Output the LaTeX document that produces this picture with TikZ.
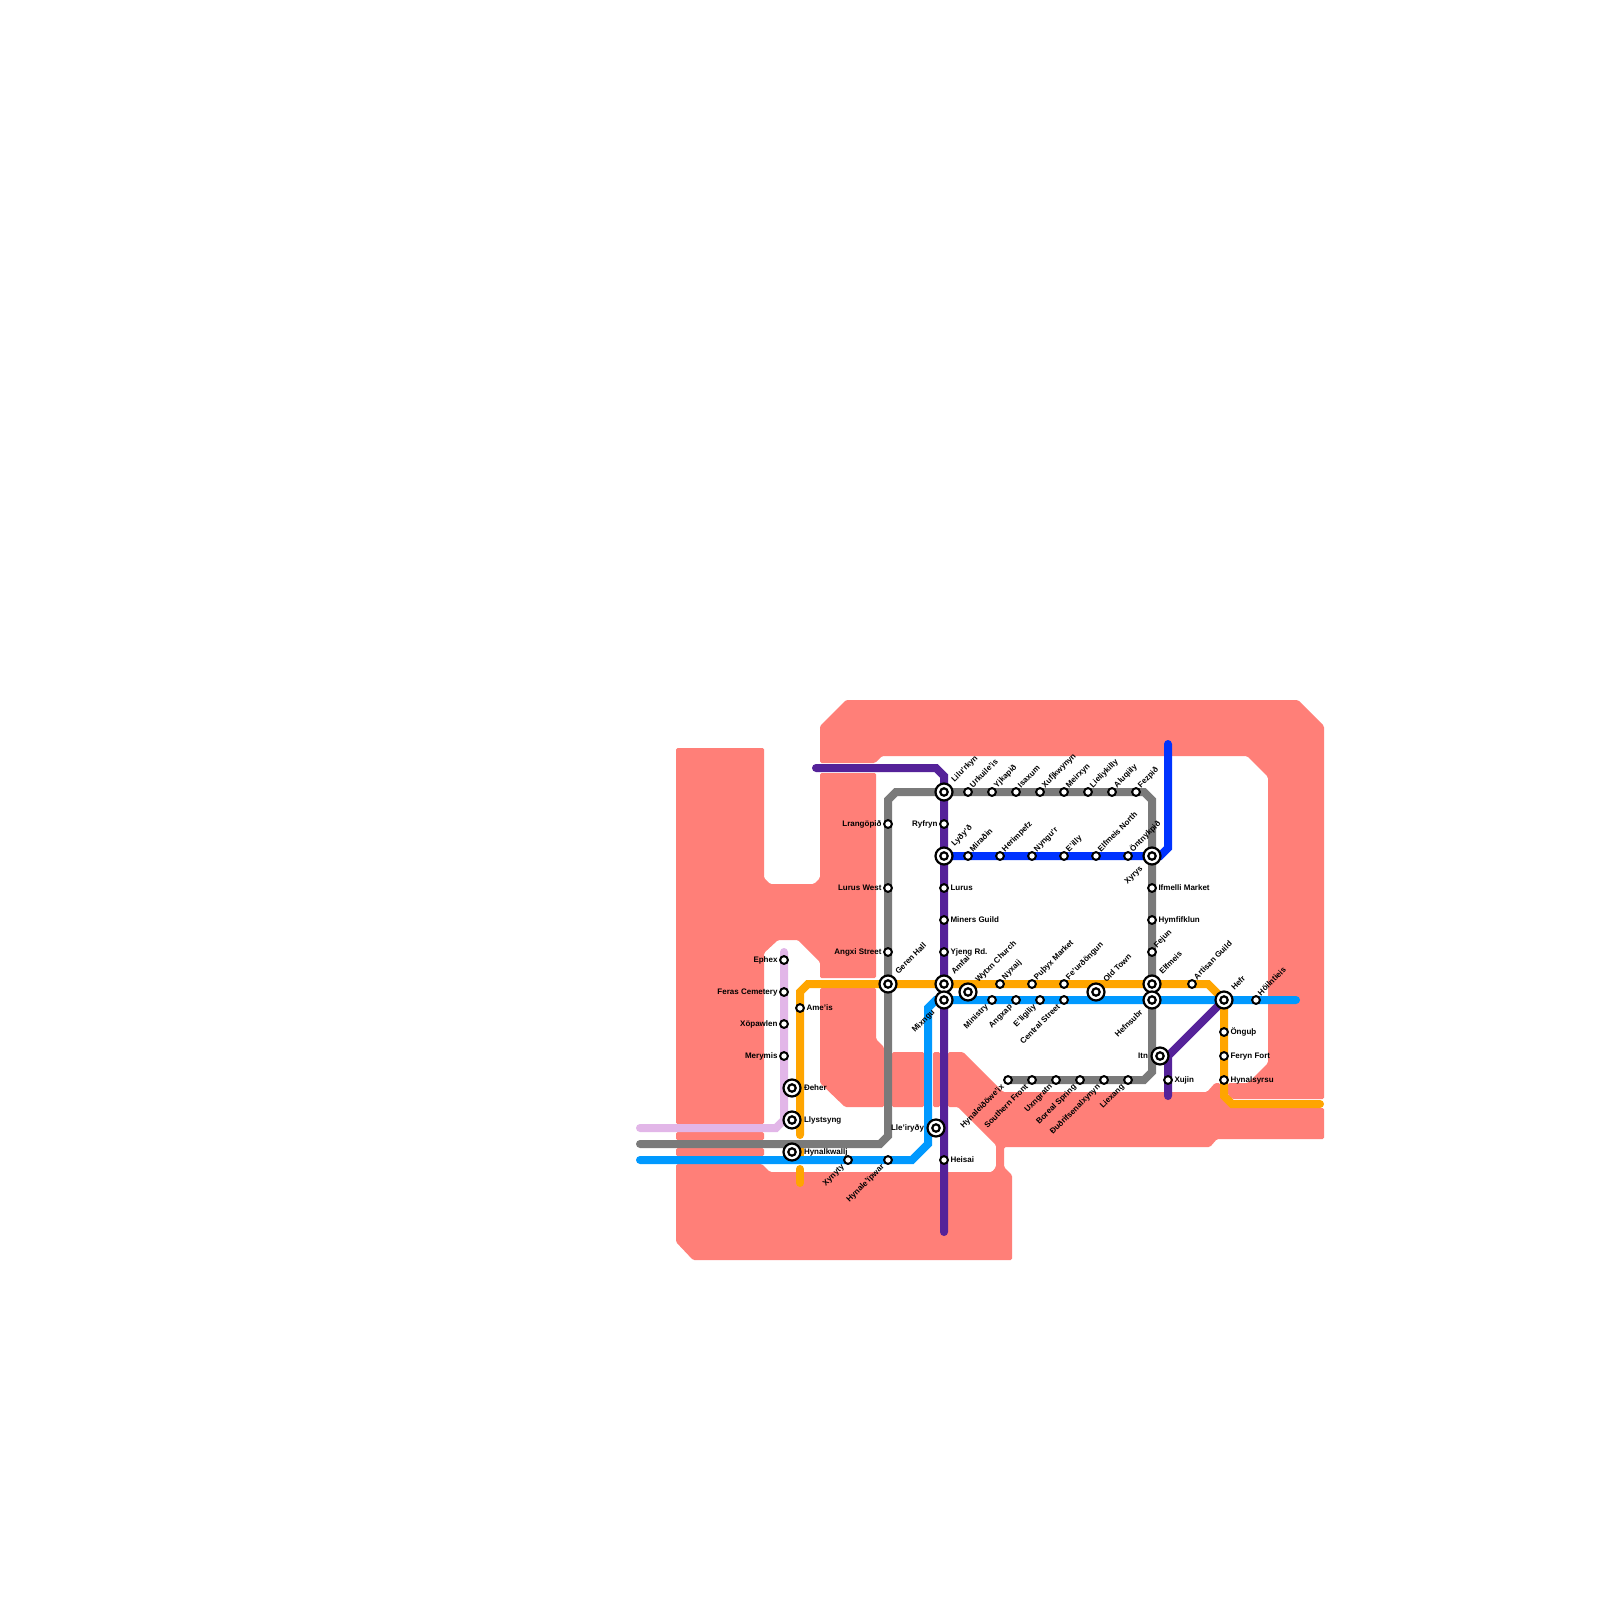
\documentclass[tikz,border=0pt]{standalone}
\usepackage{fontspec}
\setmainfont{Liberation Sans}
\definecolor{waterc}{HTML}{FF7F78}
\definecolor{purplec}{HTML}{552299}
\definecolor{bluec}{HTML}{0033FF}
\definecolor{skyc}{HTML}{0099FF}
\definecolor{grayc}{HTML}{7A7A7A}
\definecolor{orangec}{HTML}{FFA500}
\definecolor{lilac}{HTML}{E2B6E8}
\tikzset{
  water/.style={fill=waterc,draw=none,rounded corners=1.5pt},
  metro/.style={line width=8pt,line cap=round,line join=miter,draw=#1},
  small/.style={circle,draw=black,fill=white,line width=2pt,minimum size=7.8pt,inner sep=0pt,outer sep=0pt},
  big/.style={circle,draw=black,fill=white,line width=2.2pt,minimum size=17pt,inner sep=0pt,outer sep=0pt,
    path picture={\draw[black,line width=2.2pt,fill=white] (path picture bounding box.center) circle (3.7pt);}},
  lab/.style={font=\bfseries\fontsize{8}{9}\selectfont,text=black,inner sep=0pt,outer sep=0pt},
}
\newcommand{\putlabel}[5]{%
  \ifx#5R\node[lab,anchor=base west] at (#1+#4,#2+2) {#3};\fi
  \ifx#5L\node[lab,anchor=base east] at (#1-#4,#2+2) {#3};\fi
  \ifx#5U\node[lab,anchor=base west,rotate=45] at (#1+#4-1.5,#2-#4+2.5) {#3};\fi
  \ifx#5D\node[lab,anchor=base east,rotate=45] at (#1-#4+3,#2+#4+1) {#3};\fi
}
\newcommand{\ssta}[5]{\node[small] (#1) at (#2,#3) {}; \putlabel{#2}{#3}{#4}{6.5}{#5}}
\newcommand{\bsta}[5]{\node[big] (#1) at (#2,#3) {}; \putlabel{#2}{#3}{#4}{12}{#5}}
\begin{document}
\begin{tikzpicture}[x=1pt,y=-1pt]
\useasboundingbox (0,0) rectangle (1600,1600);
\fill[white] (0,0) rectangle (1600,1600);
% water
\fill[water] (676,748)--(764,748)--(764,878)--(770,884)--(814,884)--(820,878)--(820,773)--(876,773)--(876,978)--(820,978)--(820,962)--(798,940)--(778,940)--(764,953)--(764,1124)--(676,1124)--cycle;
\fill[water] (676,1132)--(764,1132)--(764,1140)--(676,1140)--cycle;
\fill[water] (676,1148)--(764,1148)--(764,1156)--(676,1156)--cycle;
\fill[water] (820,726)--(846,700)--(1298,700)--(1324,726)--(1324,1099)--(1232,1099)--(1228,1095)--(1228,1083)--(1248,1083)--(1268,1063)--(1268,777)--(1247,756)--(882,756)--(875,763)--(820,763)--cycle;
\fill[water] (820,988)--(876,988)--(876,1039)--(884,1047)--(884,1107)--(845,1107)--(820,1083)--cycle;
\fill[water] (892,1052)--(924,1052)--(924,1107)--(892,1107)--cycle;
\fill[water] (933,1052)--(940,1052)--(940,1107)--(933,1107)--cycle;
\fill[water] (948,1052)--(963,1052)--(1003,1092)--(1207,1092)--(1215,1083)--(1220,1083)--(1220,1097)--(1231,1108)--(1324,1108)--(1324,1139)--(1217,1139)--(1210,1147)--(1004,1147)--(1004,1167)--(1012,1175)--(1012,1260)--(693,1260)--(676,1242)--(676,1164)--(762,1164)--(770,1172)--(992,1172)--(996,1167)--(996,1145)--(958,1107)--(948,1107)--cycle;
% coordinates for line ends
\coordinate (purpleA) at (816,768);
\coordinate (purpleB) at (944,1232);
\coordinate (blueEnd) at (1168,744);
\coordinate (skyW) at (640,1160);
\coordinate (skyE) at (1296,1000);
\coordinate (grayW) at (640,1144);
\coordinate (lilaW) at (640,1128);
\coordinate (lilaN) at (784,952);
\coordinate (orgE) at (1320,1104);
\coordinate (purpleS) at (1168,1096);
% lines
\draw[metro=lilac] (lilaN)--(784,1120)--(776,1128)--(lilaW);
\draw[metro=orangec] (orgE)--(1232,1104)--(1224,1096)--(1224,1000)--(1208,984)--(808,984)--(800,992)--(800,1135);
\draw[metro=orangec,line cap=butt] (800,1148)--(800,1156);
\draw[metro=orangec] (800,1169)--(800,1183);
\draw[metro=grayc] (grayW)--(880,1144)--(888,1136)--(888,800)--(896,792)--(1144,792)--(1152,800)--(1152,1072)--(1144,1080)--(1008,1080);
\draw[metro=purplec] (purpleA)--(936,768)--(944,776)--(purpleB);
\draw[metro=skyc] (skyW)--(912,1160)--(928,1144)--(928,1008)--(936,1000)--(skyE);
\draw[metro=bluec] (944,856)--(1160,856)--(1168,848)--(blueEnd);
\draw[metro=purplec] (1224,1000)--(1168,1056)--(purpleS);
% stations
\ssta{s1}{784}{960}{Ephex}{L}
\ssta{s2}{784}{992}{Feras Cemetery}{L}
\ssta{s3}{784}{1024}{Xöpawlen}{L}
\ssta{s4}{784}{1056}{Merymis}{L}
\bsta{s5}{792}{1088}{Ðeher}{R}
\bsta{s6}{792}{1120}{Llystsyng}{R}
\bsta{s7}{792}{1152}{Hynalkwallj}{R}
\ssta{s8}{800}{1008}{Ame'is}{R}
\ssta{s9}{848}{1160}{Xynyty}{D}
\ssta{s10}{888}{1160}{Hynale'ïpwar}{D}
\ssta{s11}{944}{1160}{Heisai}{R}
\bsta{s12}{936}{1128}{Lle'iryðy}{L}
\ssta{s13}{888}{824}{Lrangöpið}{L}
\ssta{s14}{888}{888}{Lurus West}{L}
\ssta{s15}{888}{952}{Angxi Street}{L}
\bsta{s16}{888}{984}{Geren Hall}{U}
\ssta{s17}{944}{824}{Ryfryn}{L}
\bsta{s18}{944}{792}{Lilu'rkyn}{U}
\bsta{s19}{944}{856}{Lyðy'ð}{U}
\ssta{s20}{944}{888}{Lurus}{R}
\ssta{s21}{944}{920}{Miners Guild}{R}
\ssta{s22}{944}{952}{Yjeng Rd.}{R}
\bsta{s23}{944}{984}{Amfai}{U}
\bsta{s24}{944}{1000}{Mixngu}{D}
\bsta{s25}{968}{992}{Wytxn Church}{U}
\ssta{s26}{968}{792}{Urkuile'is}{U}
\ssta{s27}{992}{792}{Yjkapið}{U}
\ssta{s28}{1016}{792}{Isaxum}{U}
\ssta{s29}{1040}{792}{Xufjkwynyn}{U}
\ssta{s30}{1064}{792}{Meirxyn}{U}
\ssta{s31}{1088}{792}{Lieliykilly}{U}
\ssta{s32}{1112}{792}{Aluqiily}{U}
\ssta{s33}{1136}{792}{Fezpið}{U}
\ssta{s34}{968}{856}{Miraðin}{U}
\ssta{s35}{1000}{856}{Herimpefz}{U}
\ssta{s36}{1032}{856}{Nyngu'r}{U}
\ssta{s37}{1064}{856}{E'illy}{U}
\ssta{s38}{1096}{856}{Elfmeis North}{U}
\ssta{s39}{1128}{856}{Öntnykpið}{U}
\bsta{s40}{1152}{856}{Xyrys}{D}
\ssta{s41}{1152}{888}{Ifmelli Market}{R}
\ssta{s42}{1152}{920}{Hymfifklun}{R}
\ssta{s43}{1152}{952}{Fejun}{U}
\bsta{s44}{1152}{984}{Elfmeis}{U}
\bsta{s45}{1152}{1000}{Hefnsubr}{D}
\ssta{s46}{1000}{984}{Nyxaij}{U}
\ssta{s47}{1032}{984}{Puþyx Market}{U}
\ssta{s48}{1064}{984}{Fe'urðöngun}{U}
\bsta{s49}{1096}{992}{Old Town}{U}
\ssta{s50}{992}{1000}{Ministry}{D}
\ssta{s51}{1016}{1000}{Angxap}{D}
\ssta{s52}{1040}{1000}{E'ligiliy}{D}
\ssta{s53}{1064}{1000}{Central Street}{D}
\ssta{s54}{1192}{984}{Artisan Guild}{U}
\bsta{s55}{1224}{1000}{Hefr}{U}
\ssta{s56}{1256}{1000}{Höilntieis}{U}
\ssta{s57}{1224}{1032}{Önguþ}{R}
\ssta{s58}{1224}{1056}{Feryn Fort}{R}
\ssta{s59}{1224}{1080}{Hynalsyrsu}{R}
\bsta{s60}{1160}{1056}{Itn}{L}
\ssta{s61}{1168}{1080}{Xujin}{R}
\ssta{s62}{1008}{1080}{Hynaleiðöwe'ix}{D}
\ssta{s63}{1032}{1080}{Southern Front}{D}
\ssta{s64}{1056}{1080}{Uxngratn}{D}
\ssta{s65}{1080}{1080}{Boreal Spring}{D}
\ssta{s66}{1104}{1080}{Ðuðrifsenalxynyn}{D}
\ssta{s67}{1128}{1080}{Liexang}{D}
\end{tikzpicture}
\end{document}
